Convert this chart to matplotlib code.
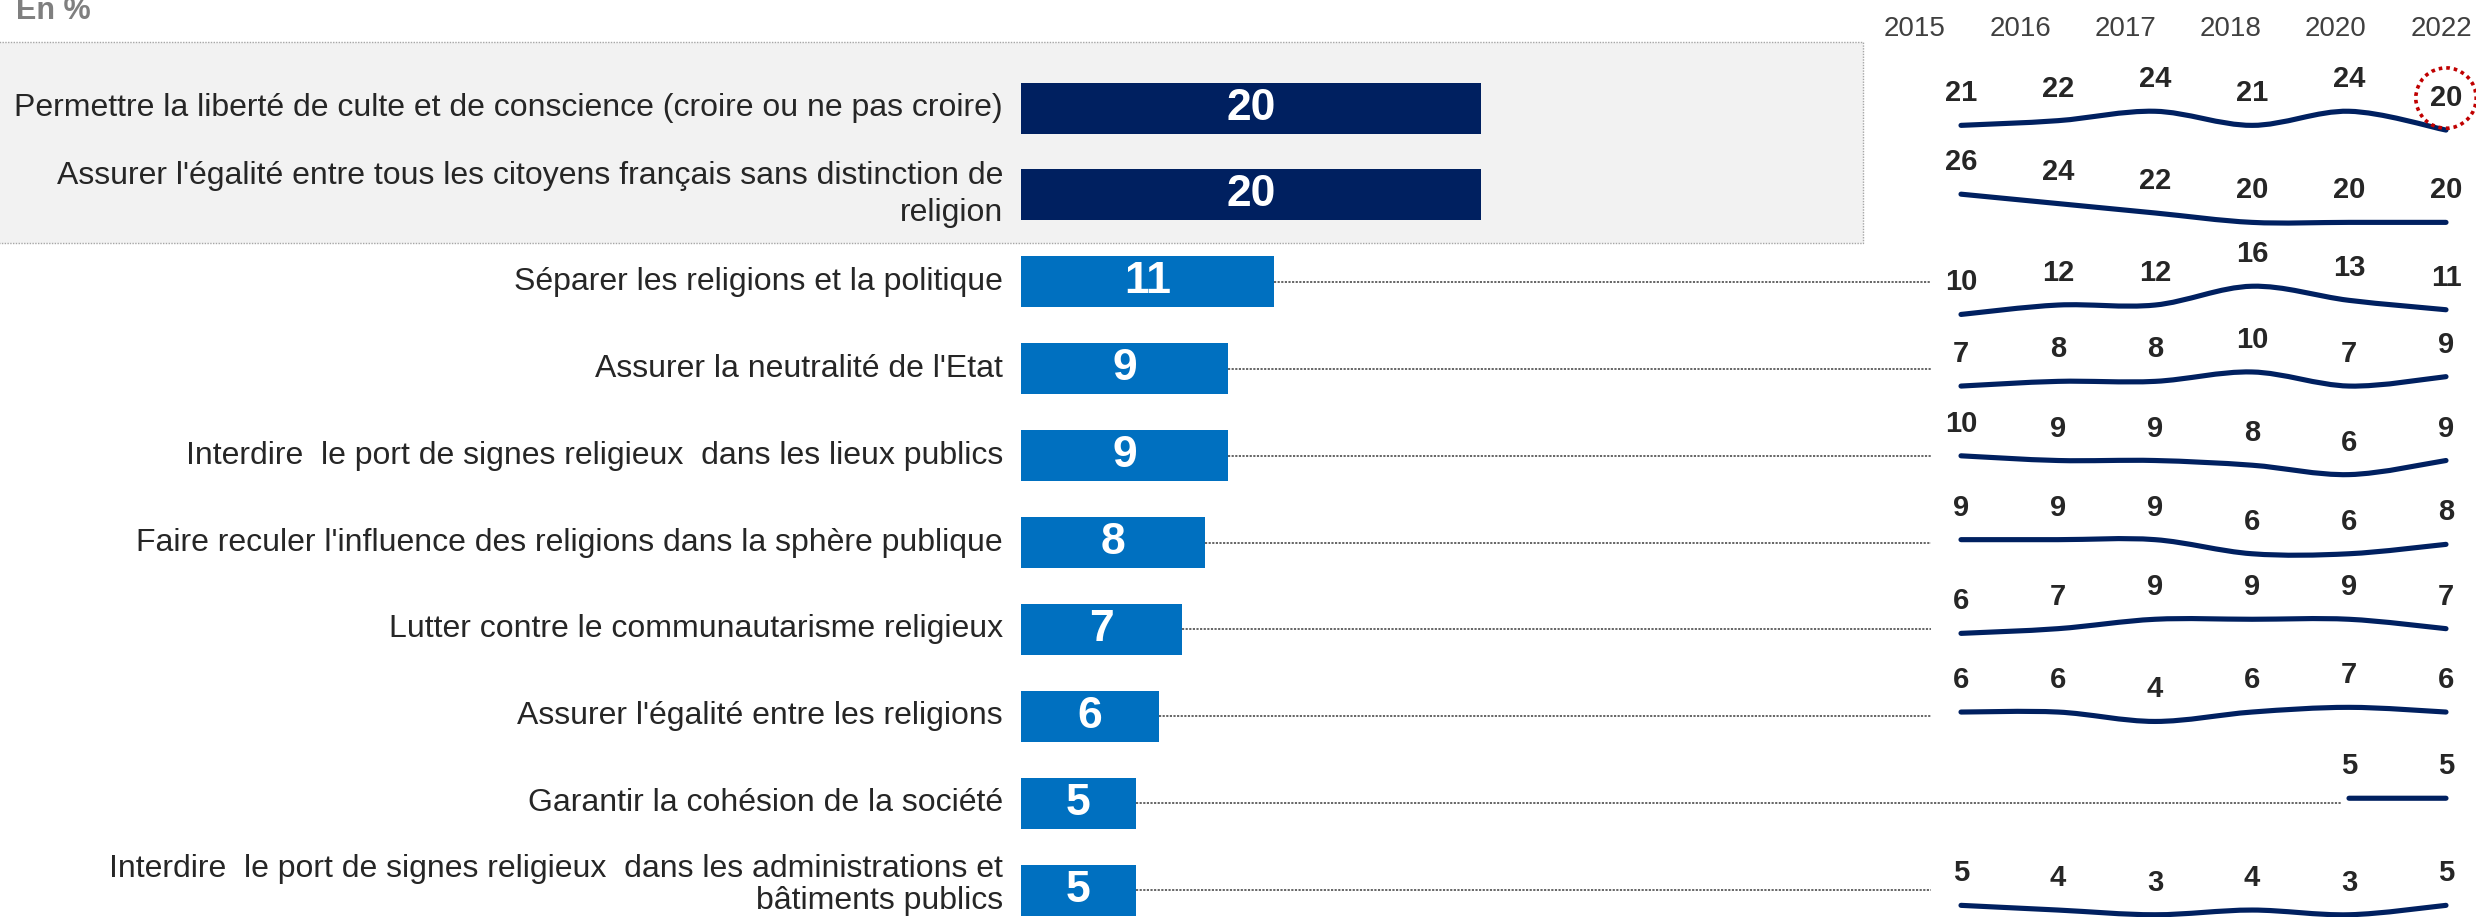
import numpy as np
import matplotlib.pyplot as plt
from matplotlib.path import Path
from matplotlib.patches import PathPatch, Rectangle

plt.rcParams['font.family'] = ['Liberation Sans', 'DejaVu Sans']

#%% Data

labels = [
    "Permettre la liberté de culte et de conscience (croire ou ne pas croire)",
    "Assurer l'égalité entre tous les citoyens français sans distinction de\nreligion",
    "Séparer les religions et la politique",
    "Assurer la neutralité de l'Etat",
    "Interdire  le port de signes religieux  dans les lieux publics",
    "Faire reculer l'influence des religions dans la sphère publique",
    "Lutter contre le communautarisme religieux",
    "Assurer l'égalité entre les religions",
    "Garantir la cohésion de la société",
    "Interdire  le port de signes religieux  dans les administrations et\nbâtiments publics",
]
values_2022 = [20, 20, 11, 9, 9, 8, 7, 6, 5, 5]

years = ['2015', '2016', '2017', '2018', '2020', '2022']
nan = np.nan
trend = [
    [21, 22, 24, 21, 24, 20],
    [26, 24, 22, 20, 20, 20],
    [10, 12, 12, 16, 13, 11],
    [7, 8, 8, 10, 7, 9],
    [10, 9, 9, 8, 6, 9],
    [9, 9, 9, 6, 6, 8],
    [6, 7, 9, 9, 9, 7],
    [6, 6, 4, 6, 7, 6],
    [nan, nan, nan, nan, 5, 5],
    [5, 4, 3, 4, 3, 5],
]

#%% Layout (pixels of the 2476x917 canvas)

W, H = 2476, 917
bar_x0 = 1021          # where the bars start
px_per_unit = 23
row0_y = 108           # centre of first row
row_pitch = 86.9
bar_h = 51

spark_x0, spark_x1 = 1961, 2446
spark_px_per_unit = 4.7
spark_floor = [15.45, 16.6, 7.7, 1.45, 0.8, -0.85, -2.4, -4.15, -5.3, -1.0]
year_x0, year_x1 = 1915, 2441

navy = '#002060'
blue = '#0070C0'
txt = '#262626'

fig = plt.figure(figsize=(W / 100, H / 100), dpi=100)

ax = fig.add_axes([0, 0, 1, 1])
ax.set_xlim(-bar_x0 / px_per_unit, (W - bar_x0) / px_per_unit)
ax.set_ylim((H - row0_y) / row_pitch, -row0_y / row_pitch)
ax.axis('off')

rows = np.arange(len(labels))
colors = [navy, navy] + [blue] * (len(labels) - 2)

# grey box behind the two top items
box_right = (1863 - bar_x0) / px_per_unit
box = Rectangle((ax.get_xlim()[0] - 1, -0.76), box_right - ax.get_xlim()[0] + 1, 2.31,
                facecolor='#F2F2F2', edgecolor='#A6A6A6', lw=1, ls=(0, (1, 1)), zorder=0)
ax.add_patch(box)

ax.barh(rows, values_2022, height=bar_h / row_pitch, color=colors, zorder=2)

for i, (lab, v) in enumerate(zip(labels, values_2022)):
    ly = i
    ls = 1.3
    if i == len(labels) - 1:
        # last label is squeezed against the bottom of the slide
        ly = i - 0.06
        ls = 1.12
    ax.text(-0.78, ly, lab, ha='right', va='center', fontsize=23, color=txt,
            linespacing=ls, multialignment='right')
    ax.text(v / 2, i, str(v), ha='center', va='center', fontsize=32,
            fontweight='bold', color='white', zorder=3)

# dotted leaders to the trend lines
step_px = (spark_x1 - spark_x0) / (len(years) - 1)
for i in range(2, len(labels)):
    first = int(np.argmax(~np.isnan(trend[i])))
    if first == 0:
        end_px = spark_x0 - 30
    else:
        end_px = spark_x0 + first * step_px - 8
    ax.plot([values_2022[i], (end_px - bar_x0) / px_per_unit], [i, i],
            color='#595959', lw=1.3, ls=(0, (1.2, 0.8)), zorder=1)

# year header
hx = fig.add_axes([year_x0 / W, 1 - 58 / H, (year_x1 - year_x0) / W, 58 / H])
hx.set_xlim(0, len(years) - 1)
hx.set_ylim(0, 1)
hx.axis('off')
for k, y in enumerate(years):
    hx.text(k, 0.5, y, ha='center', va='center', fontsize=20, color='#404040')


def smooth_path(xs, ys):
    # bezier through the points (same idea as office "smoothed line")
    verts = [(xs[0], ys[0])]
    codes = [Path.MOVETO]
    n = len(xs)
    for k in range(n - 1):
        km, kp = max(k - 1, 0), min(k + 2, n - 1)
        c1 = (xs[k] + (xs[k + 1] - xs[km]) / 6, ys[k] + (ys[k + 1] - ys[km]) / 6)
        c2 = (xs[k + 1] - (xs[kp] - xs[k]) / 6, ys[k + 1] - (ys[kp] - ys[k]) / 6)
        verts += [c1, c2, (xs[k + 1], ys[k + 1])]
        codes += [Path.CURVE4] * 3
    return Path(verts, codes)


span_units = row_pitch / spark_px_per_unit
for i, series in enumerate(trend):
    yc = row0_y + i * row_pitch
    sx = fig.add_axes([spark_x0 / W, 1 - (yc + row_pitch / 2) / H,
                       (spark_x1 - spark_x0) / W, row_pitch / H])
    sx.set_xlim(0, len(years) - 1)
    sx.set_ylim(spark_floor[i], spark_floor[i] + span_units)
    sx.axis('off')
    s = np.array(series, dtype=float)
    ok = ~np.isnan(s)
    xs = np.arange(len(s))[ok]
    ys = s[ok]
    sx.add_patch(PathPatch(smooth_path(xs, ys), fill=False, edgecolor=navy, lw=3.7,
                           capstyle='round', joinstyle='round', clip_on=False))
    for k, v in zip(xs, ys):
        t = sx.annotate(f'{v:.0f}', (k, v), xytext=(0, 32), textcoords='offset pixels',
                        ha='center', va='center', fontsize=21, fontweight='bold',
                        color=txt, annotation_clip=False)
        if i == 0 and k == len(s) - 1:
            t.set_bbox(dict(boxstyle='circle,pad=0.48', fc='none', ec='#C00000',
                            lw=2.6, ls=(0, (1, 1.1))))

fig.text(16 / W, 1 - 19 / H, 'En %', fontsize=22, fontweight='bold', color='#7F7F7F',
         va='baseline')

fig.savefig('out.png', dpi=100)
